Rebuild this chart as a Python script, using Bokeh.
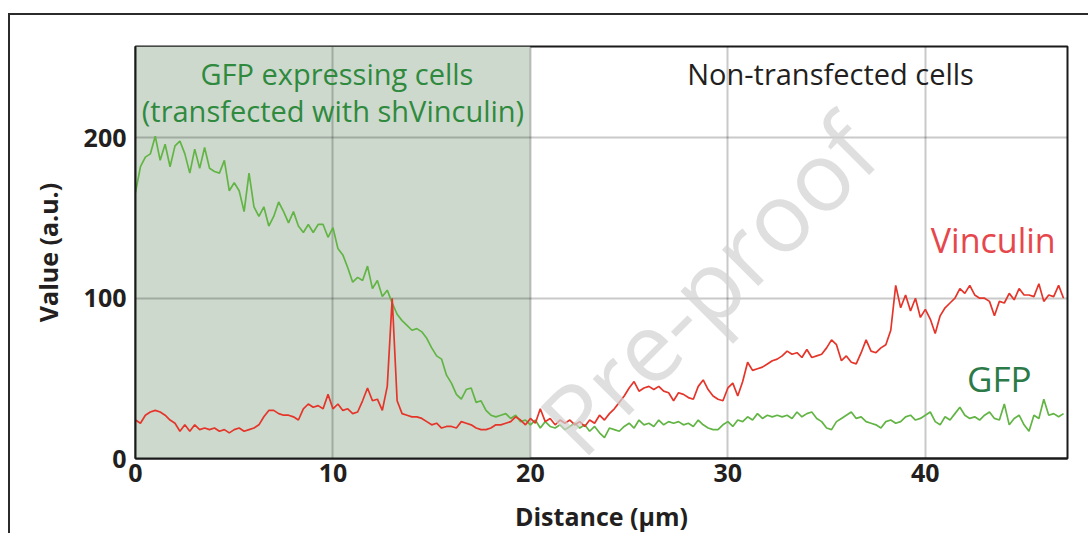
from bokeh.plotting import figure
from bokeh.models import Range1d, BoxAnnotation, Label, FixedTicker
from bokeh.embed import file_html
from bokeh.resources import INLINE

# ---------------- data ----------------
STEP = 0.25  # sampling step along the profile (µm)

# GFP intensity (a.u.) from 0 to 47 µm
gfp = [
    166, 182, 188, 190, 201, 186, 196, 182, 195, 198,
    190, 178, 193, 181, 194, 181, 179, 178, 186, 167,
    172, 167, 154, 178, 157, 151, 157, 145, 151, 160,
    154, 147, 154, 145, 141, 146, 141, 146, 146, 138,
    144,
    131, 127, 119, 110, 113, 111, 120, 106, 111, 101,
    105, 97, 90, 86, 83, 80, 81, 79, 75, 69,
    64, 62, 52, 47, 40, 37, 43, 44, 35, 36,
    30, 27, 26, 27, 28, 25, 27, 23, 24, 21,
    24, 19, 23, 20, 19, 21, 18, 20, 22, 19,
    21, 17, 20, 16, 13, 19, 18, 17, 20, 22,
    19, 24, 21, 22, 20, 24, 21, 23, 22, 23,
    21, 22, 20, 24, 21, 19, 18, 18, 21, 23,
    20, 24, 23, 26, 24, 28, 25, 27, 26, 27,
    26, 27, 25, 29, 26, 28, 29, 25, 23, 19,
    18, 23, 25, 27, 29, 25, 26, 23, 22, 21,
    19, 23, 24, 22, 23, 26, 27, 24, 25, 27,
    29, 23, 21, 26, 24, 28, 32, 27, 25, 26,
    24, 27, 29, 25, 24, 34, 21, 25, 27, 21,
    17, 27, 25, 37, 27, 28, 26, 28,
]

# Vinculin intensity (a.u.) from 0 to 47 µm
vinculin = [
    24, 22, 27, 29, 30, 29, 27, 24, 22, 17,
    21, 17, 21, 18, 19, 18, 19, 17, 18, 16,
    18, 19, 17, 18, 19, 21, 26, 30, 30, 28,
    27, 27, 26, 24, 31, 34, 32, 33, 31, 40,
    31,
    34, 30, 31, 28, 29, 36, 44, 36, 37, 30,
    45, 100, 36, 28, 27, 26, 26, 25, 23, 21,
    22, 19, 20, 20, 19, 23, 22, 21, 19, 18,
    18, 19, 21, 21, 22, 23, 26, 24, 21, 25,
    22, 31, 23, 25, 21, 24, 22, 24, 21, 23,
    20, 24, 22, 27, 24, 28, 31, 35, 39, 44,
    48, 42, 44, 45, 43, 45, 42, 41, 36, 41,
    40, 38, 37, 45, 49, 43, 39, 37, 36, 44,
    47, 39, 48, 60, 55, 56, 57, 59, 61, 62,
    64, 67, 65, 66, 63, 68, 63, 64, 65, 69,
    74, 71, 61, 64, 60, 59, 66, 74, 67, 66,
    69, 71, 80, 108, 94, 102, 92, 100, 88, 93,
    87, 78, 89, 94, 97, 100, 106, 103, 108, 102,
    100, 100, 98, 89, 98, 97, 103, 99, 106, 102,
    102, 101, 109, 98, 102, 101, 108, 100,
]

x_ticks = [0, 10, 20, 30, 40]
y_ticks = [0, 100, 200]
transfected_zone = (0, 20)

# ---------------- figure ----------------
p = figure(
    width=1080, height=520,
    x_range=Range1d(0, 47.2), y_range=Range1d(0, 257),
    output_backend="svg", toolbar_location=None,
    min_border_left=125, min_border_right=23,
    min_border_top=31, min_border_bottom=75,
)
p.styles = {"border-top": "2px solid #2b2b2b", "border-left": "2px solid #2b2b2b",
            "margin-top": "13px", "margin-left": "8px"}

p.outline_line_color = "#1a1a1a"
p.outline_line_width = 2
p.background_fill_color = "white"
p.border_fill_color = "white"

for ax in (p.xaxis[0], p.yaxis[0]):
    ax.axis_line_color = "#1a1a1a"
    ax.axis_line_width = 2
    ax.major_tick_line_color = None
    ax.minor_tick_line_color = None
    ax.major_label_text_font = "Open Sans"
    ax.major_label_text_font_style = "bold"
    ax.major_label_text_font_size = "25px"
    ax.major_label_text_color = "#231f20"
    ax.axis_label_text_font = "Open Sans"
    ax.axis_label_text_font_style = "bold"
    ax.axis_label_text_font_size = "25px"
    ax.axis_label_text_color = "#231f20"

p.xaxis.ticker = FixedTicker(ticks=x_ticks)
p.yaxis.ticker = FixedTicker(ticks=y_ticks)
p.xaxis.axis_label = "Distance (µm)"
p.yaxis.axis_label = "Value (a.u.)"
p.xaxis.major_label_standoff = -1
p.xaxis.axis_label_standoff = 14
p.yaxis.major_label_standoff = 3
p.yaxis.axis_label_standoff = 16

p.xgrid.ticker = FixedTicker(ticks=x_ticks[1:])
p.ygrid.ticker = FixedTicker(ticks=y_ticks[1:])
p.grid.grid_line_color = "black"
p.grid.grid_line_alpha = 0.21
p.grid.grid_line_width = 2

# shaded zone of the GFP-expressing (transfected) cells, under the grid
shade = BoxAnnotation(left=transfected_zone[0], right=transfected_zone[1], level="underlay",
                      fill_color="#cdd9cd", fill_alpha=1.0, line_color=None)
p.center = [shade] + list(p.center)

xs = [i * STEP for i in range(len(gfp))]
xv = [i * STEP for i in range(len(vinculin))]
p.line(xs, gfp, line_color="#62b545", line_width=1.7)
p.line(xv, vinculin, line_color="#e5352a", line_width=1.7)

def lab(x, y, text, color, size, align="center"):
    p.add_layout(Label(x=x, y=y, text=text, text_color=color, text_font="Open Sans",
                       text_font_size=size, text_align=align, text_baseline="middle"))

lab(10.2, 240, "GFP expressing cells", "#2f8a3e", "29px")
lab(10.0, 217, "(transfected with shVinculin)", "#2f8a3e", "29px")
lab(35.2, 240, "Non-transfected cells", "#231f20", "29px")
lab(46.6, 136, "Vinculin", "#e6474c", "34px", align="right")
lab(43.75, 50, "GFP", "#2b7a48", "35px")

# faint diagonal watermark, kept inside the plotting frame
p.add_layout(Label(x=36.6, y=203, text="Pre-proof", angle=45, angle_units="deg",
                   text_font="Open Sans", text_font_size="96px", text_color="#d2d2d2",
                   text_alpha=0.7, text_align="right", text_baseline="middle"))

open("out.html", "w").write(file_html(p, INLINE))
